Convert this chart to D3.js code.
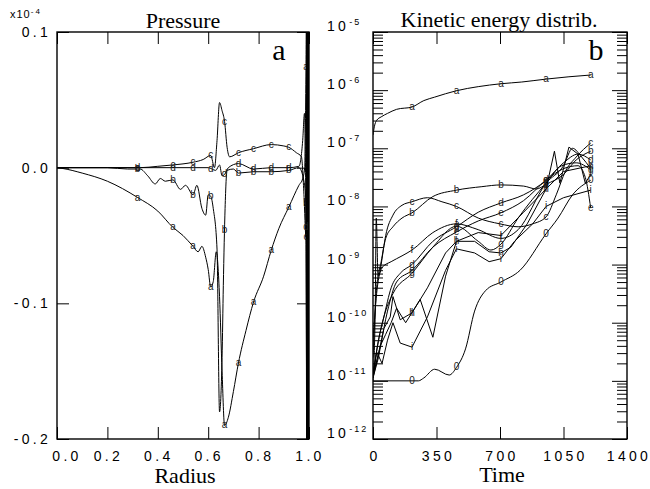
<!DOCTYPE html>
<html>
<head>
<meta charset="utf-8">
<script src="https://cdn.jsdelivr.net/npm/d3@7"></script>
<style>
  body { margin: 0; background: #fff; }
  svg text { fill: #000; }
  .tick-lbl { font-family: "Liberation Sans", Arial, sans-serif; font-size: 14px; letter-spacing: 3.3px; }
  .ttl { font-family: "Liberation Serif", "Times New Roman", serif; font-size: 22px; }
  .mark { font-family: "Liberation Sans", Arial, sans-serif; font-size: 10px; fill: #222; }
</style>
</head>
<body>
<div id="chart"></div>
<script>
'use strict';

// ---- panel a : pressure (units of 1e-4) vs radius ----
var presTicksX = [0, 0.2, 0.4, 0.6, 0.8, 1.0];
var presTicksY = [-0.2, -0.1, 0.0, 0.1];
var presMarkX = [0.32, 0.46, 0.54, 0.61, 0.665, 0.72, 0.78, 0.85, 0.92, 0.988];

var presA = [[0,0],[0.02,-0.0005],[0.1,-0.004],[0.2,-0.01],[0.32,-0.022],[0.4,-0.032],[0.46,-0.044],
  [0.5,-0.05],[0.54,-0.058],[0.56,-0.062],[0.575,-0.058],[0.59,-0.066],[0.6,-0.075],[0.61,-0.088],
  [0.62,-0.084],[0.632,-0.062],[0.645,-0.095],[0.655,-0.15],[0.665,-0.19],[0.68,-0.184],[0.7,-0.165],
  [0.72,-0.144],[0.75,-0.12],[0.78,-0.099],[0.82,-0.08],[0.85,-0.061],[0.88,-0.045],[0.92,-0.029],
  [0.96,-0.013],[0.975,-0.008],[0.983,0.0],[0.988,0.074],[0.990,0.12],[0.992,-0.21],[0.994,0.12],
  [0.996,-0.21],[0.998,0.12],[1.0,-0.21]];
var presB = [[0,0],[0.2,0],[0.28,-0.001],[0.33,-0.001],[0.36,-0.006],[0.39,-0.012],[0.41,-0.008],
  [0.43,-0.01],[0.46,-0.009],[0.49,-0.016],[0.51,-0.013],[0.54,-0.020],[0.555,-0.013],[0.575,-0.03],
  [0.59,-0.035],[0.6,-0.02],[0.61,-0.021],[0.62,-0.03],[0.635,-0.06],[0.645,-0.18],[0.655,-0.14],
  [0.66,-0.087],[0.667,-0.03],[0.675,-0.002],[0.7,-0.001],[0.72,-0.004],[0.78,-0.003],[0.85,-0.003],
  [0.92,-0.002],[0.96,0.0],[0.98,-0.01],[0.988,-0.026],[0.991,-0.21],[0.993,0.12],[0.995,-0.21],
  [0.997,0.12],[1.0,-0.21]];
var presC = [[0,0],[0.2,0],[0.33,0.0],[0.4,0.001],[0.46,0.002],[0.54,0.004],[0.58,0.006],[0.61,0.009],
  [0.625,0.0],[0.635,0.02],[0.645,0.048],[0.655,0.042],[0.665,0.034],[0.675,0.015],[0.685,0.008],
  [0.72,0.011],[0.78,0.014],[0.85,0.017],[0.9,0.016],[0.92,0.015],[0.95,0.011],[0.97,0.008],
  [0.98,-0.02],[0.988,-0.051],[0.991,0.12],[0.994,-0.21],[0.997,0.12],[1.0,-0.21]];
var presD = [[0,0],[0.33,0.0],[0.46,0.0],[0.54,0.0],[0.6,0.0],[0.63,-0.002],[0.645,0.002],[0.655,-0.006],
  [0.665,-0.005],[0.68,0.0],[0.72,0.003],[0.78,-0.001],[0.85,0.0],[0.92,0.0],[0.96,0.001],[0.975,0.02],
  [0.982,0.04],[0.988,-0.044],[0.992,-0.21],[0.996,0.12],[1.0,-0.21]];
var presNames = ['a', 'b', 'c', 'd'];
var presSeries = [presA, presB, presC, presD];

// ---- panel b : kinetic energy (log10) vs time ----
var keTicksX = [0, 350, 700, 1050, 1400];
var keDecades = [-12, -11, -10, -9, -8, -7, -6, -5];
var keMarkT = [215, 460, 705, 954, 1200];

var keA = [[0,-6.77],[8,-6.62],[20,-6.52],[45,-6.46],[80,-6.4],[130,-6.33],[215,-6.29],[280,-6.18],[340,-6.12],
  [460,-6.01],[580,-5.94],[705,-5.89],[820,-5.86],[954,-5.81],[1080,-5.77],[1200,-5.74]];
var keB = [[0,-10.6],[20,-9.4],[45,-8.95],[70,-8.55],[110,-8.35],[160,-8.2],[215,-8.11],[330,-7.83],
  [460,-7.72],[600,-7.66],[705,-7.63],[830,-7.65],[900,-7.7],[954,-7.62],[1050,-7.45],[1120,-7.2],[1200,-7.05]];
var keC = [[0,-10.3],[20,-9.5],[45,-9.0],[70,-8.5],[110,-8.15],[160,-7.98],[215,-7.92],[300,-7.85],[380,-7.92],
  [460,-8.0],[580,-8.2],[700,-8.3],[800,-8.35],[880,-8.3],[954,-8.18],[1010,-7.8],[1060,-7.4],[1120,-7.15],[1200,-6.91]];
var keD = [[0,-10.9],[30,-10.3],[60,-9.9],[100,-9.4],[150,-9.15],[215,-9.0],[330,-8.6],[460,-8.35],[580,-8.1],
  [705,-7.94],[830,-7.8],[954,-7.55],[1050,-7.25],[1130,-7.1],[1200,-7.2]];
var keE = [[0,-10.9],[40,-10.4],[80,-9.8],[130,-9.3],[215,-9.1],[330,-8.7],[460,-8.44],[580,-8.25],[705,-8.11],
  [830,-7.9],[954,-7.55],[1050,-7.35],[1130,-7.3],[1170,-7.5],[1200,-8.03]];
var keF = [[0,-11],[12,-9.8],[18,-8.2],[28,-9.2],[50,-9.05],[100,-8.95],[160,-8.85],[215,-8.75],[330,-8.45],
  [460,-8.3],[580,-8.4],[705,-8.55],[800,-8.4],[954,-7.6],[1050,-7.3],[1100,-7.0],[1150,-7.15],[1200,-7.35]];
var keG = [[0,-10.9],[25,-10.4],[60,-9.9],[110,-9.5],[215,-9.15],[330,-8.7],[460,-8.34],[580,-8.6],[650,-8.75],
  [705,-8.65],[800,-8.2],[954,-7.6],[1040,-7.3],[1120,-7.25],[1200,-7.37]];
var keH = [[0,-10.95],[30,-10.6],[60,-10.1],[95,-9.9],[110,-9.55],[150,-9.95],[215,-9.83],[300,-9.4],[400,-8.8],
  [460,-8.6],[560,-8.6],[640,-8.78],[705,-8.8],[760,-8.7],[850,-8.3],[954,-7.7],[1050,-7.4],[1200,-7.3]];
var keI = [[0,-10.95],[20,-10.5],[50,-10.7],[80,-10.3],[110,-10.0],[150,-10.35],[215,-10.42],[300,-9.9],
  [400,-9.1],[460,-8.73],[560,-8.8],[640,-8.95],[705,-8.9],[780,-8.6],[880,-8.3],[954,-8.0],[1050,-7.85],[1200,-7.72]];
var keJ = [[0,-10.95],[40,-10.4],[70,-10.2],[100,-10.0],[130,-9.75],[180,-10.0],[260,-9.6],[330,-10.25],
  [400,-9.2],[460,-8.6],[580,-8.45],[705,-8.5],[830,-8.1],[954,-7.7],[1000,-7.05],[1030,-7.6],[1080,-6.98],
  [1130,-7.1],[1170,-7.6],[1200,-7.45]];
var keO = [[0,-11.0],[250,-11.0],[280,-10.95],[340,-10.8],[420,-10.9],[460,-10.77],[510,-10.45],[560,-9.8],
  [620,-9.45],[705,-9.3],[810,-9.1],[954,-8.47],[1020,-8.2],[1100,-7.8],[1200,-7.55]];
var keNames = ['a', 'b', 'c', 'd', 'e', 'f', 'g', 'h', 'i', 'l', '0'];
var keSeries = [keA, keB, keC, keD, keE, keF, keG, keH, keI, keJ, keO];
var keJagged = ['h', 'i', 'l'];

var W = 650, H = 489;
var svg = d3.select('#chart').append('svg').attr('width', W).attr('height', H);

function interp(pts, x) {
    for (var i = 1; i < pts.length; i++) {
        if (x <= pts[i][0]) {
            var p = pts[i - 1], q = pts[i];
            return p[1] + (q[1] - p[1]) * (x - p[0]) / (q[0] - p[0]);
        }
    }
    return pts[pts.length - 1][1];
}

function frame(g, x0, x1, y0, y1) {
    g.append('rect').attr('x', x0).attr('y', y0).attr('width', x1 - x0).attr('height', y1 - y0)
        .attr('fill', 'none').attr('stroke', '#000').attr('stroke-width', 1.4);
}

function noDomain(a) { a.select('.domain').remove(); }

// ===== panel a =====
var xL = d3.scaleLinear().domain([0, 1]).range([57, 309]);
var yL = d3.scaleLinear().domain([-0.2, 0.1]).range([439, 32]);
var gA = svg.append('g');

svg.append('clipPath').attr('id', 'clipA').append('rect')
    .attr('x', 57).attr('y', 32).attr('width', 252).attr('height', 407);

var lineL = d3.line().x(function(d) { return xL(d[0]); }).y(function(d) { return yL(d[1]); })
    .curve(d3.curveMonotoneX);

var curvesA = gA.append('g').attr('clip-path', 'url(#clipA)');
presSeries.forEach(function(s, i) {
    curvesA.append('path').datum(s).attr('d', lineL)
        .attr('fill', 'none').attr('stroke', '#000').attr('stroke-width', 1);
    presMarkX.forEach(function(mx) {
        curvesA.append('text').attr('class', 'mark')
            .attr('x', xL(mx)).attr('y', yL(interp(s, mx)) + 3)
            .attr('text-anchor', 'middle').text(presNames[i]);
    });
});

// ticks
gA.append('g').attr('transform', 'translate(0,439)')
    .call(d3.axisBottom(xL).tickValues(presTicksX).tickSize(-12).tickSizeOuter(0).tickFormat('')).call(noDomain);
gA.append('g').attr('transform', 'translate(0,32)')
    .call(d3.axisTop(xL).tickValues(presTicksX).tickSize(-12).tickSizeOuter(0).tickFormat('')).call(noDomain);
gA.append('g').attr('transform', 'translate(57,0)')
    .call(d3.axisLeft(yL).tickValues(presTicksY).tickSize(-12).tickSizeOuter(0).tickFormat('')).call(noDomain);
gA.append('g').attr('transform', 'translate(309,0)')
    .call(d3.axisRight(yL).tickValues(presTicksY).tickSize(-12).tickSizeOuter(0).tickFormat('')).call(noDomain);
frame(gA, 57, 309, 32, 439);

// labels
presTicksX.forEach(function(v, i) {
    gA.append('text').attr('class', 'tick-lbl')
        .attr('x', xL(v) + (i === 0 ? 10 : 1)).attr('y', 461)
        .attr('text-anchor', 'middle').text(d3.format('.1f')(v));
});
presTicksY.forEach(function(v) {
    gA.append('text').attr('class', 'tick-lbl')
        .attr('x', 51).attr('y', yL(v) + 5)
        .attr('text-anchor', 'end').text(d3.format('.1f')(v).replace('−', '-'));
});
var mult = gA.append('text').attr('x', 10).attr('y', 18)
    .style('font-family', '"Liberation Sans", Arial, sans-serif').style('font-size', '11px');
mult.append('tspan').text('x10').style('letter-spacing', '1px');
mult.append('tspan').attr('dy', -4).style('font-size', '8px').style('letter-spacing', '2px').text('-4');

gA.append('text').attr('class', 'ttl').attr('x', 183).attr('y', 28).attr('text-anchor', 'middle').text('Pressure');
gA.append('text').attr('class', 'ttl').attr('x', 185).attr('y', 483).attr('text-anchor', 'middle').text('Radius');
gA.append('text').attr('class', 'ttl').style('font-size', '30px').attr('x', 279).attr('y', 60)
    .attr('text-anchor', 'middle').text('a');

// ===== panel b =====
var xR = d3.scaleLinear().domain([0, 1400]).range([373, 627]);
var yR = d3.scaleLog().domain([1e-12, 1e-5]).range([439, 32]);
var gB = svg.append('g');

svg.append('clipPath').attr('id', 'clipB').append('rect')
    .attr('x', 373).attr('y', 32).attr('width', 254).attr('height', 407);

var lineR = d3.line().x(function(d) { return xR(d[0]); })
    .y(function(d) { return yR(Math.pow(10, d[1])); });

var curvesB = gB.append('g').attr('clip-path', 'url(#clipB)');
keSeries.forEach(function(s, i) {
    var jag = keJagged.indexOf(keNames[i]) >= 0;
    curvesB.append('path').datum(s)
        .attr('d', lineR.curve(jag ? d3.curveLinear : d3.curveMonotoneX))
        .attr('fill', 'none').attr('stroke', '#000').attr('stroke-width', 1);
    keMarkT.forEach(function(t) {
        curvesB.append('text').attr('class', 'mark')
            .attr('x', xR(t)).attr('y', yR(Math.pow(10, interp(s, t))) + 3)
            .attr('text-anchor', 'middle').text(keNames[i]);
    });
});

var majorVals = keDecades.map(function(e) { return Math.pow(10, e); });
var minorVals = yR.ticks().filter(function(v) {
    var m = Math.round(v / Math.pow(10, Math.floor(Math.log10(v) + 1e-9)));
    return m !== 1;
});

gB.append('g').attr('transform', 'translate(0,439)')
    .call(d3.axisBottom(xR).tickValues(keTicksX).tickSize(-12).tickSizeOuter(0).tickFormat('')).call(noDomain);
gB.append('g').attr('transform', 'translate(0,32)')
    .call(d3.axisTop(xR).tickValues(keTicksX).tickSize(-12).tickSizeOuter(0).tickFormat('')).call(noDomain);
[[373, d3.axisLeft], [627, d3.axisRight]].forEach(function(side) {
    gB.append('g').attr('transform', 'translate(' + side[0] + ',0)')
        .call(side[1](yR).tickValues(majorVals).tickSize(-15).tickSizeOuter(0).tickFormat('')).call(noDomain);
    gB.append('g').attr('transform', 'translate(' + side[0] + ',0)')
        .call(side[1](yR).tickValues(minorVals).tickSize(-10).tickSizeOuter(0).tickFormat('')).call(noDomain);
});
frame(gB, 373, 627, 32, 439);

keTicksX.forEach(function(v) {
    gB.append('text').attr('class', 'tick-lbl')
        .attr('x', xR(v) + 2).attr('y', 461)
        .attr('text-anchor', 'middle').text(v);
});
keDecades.forEach(function(e) {
    var t = gB.append('text').attr('class', 'tick-lbl').attr('x', 327).attr('y', yR(Math.pow(10, e)) - 1);
    t.append('tspan').text('10');
    t.append('tspan').attr('dy', -6).style('font-size', '9px').style('letter-spacing', '2px').text('-' + (-e));
});

gB.append('text').attr('class', 'ttl').attr('x', 499).attr('y', 27).attr('text-anchor', 'middle')
    .text('Kinetic energy distrib.');
gB.append('text').attr('class', 'ttl').attr('x', 502).attr('y', 482).attr('text-anchor', 'middle').text('Time');
gB.append('text').attr('class', 'ttl').style('font-size', '30px').attr('x', 596).attr('y', 60)
    .attr('text-anchor', 'middle').text('b');
</script>
</body>
</html>
